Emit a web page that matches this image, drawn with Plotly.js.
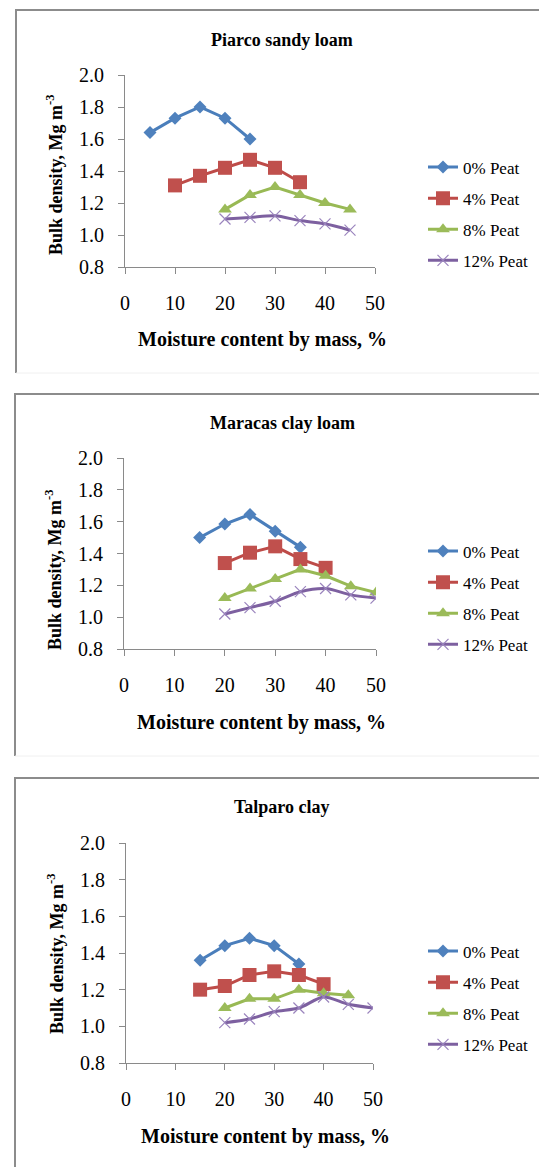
<!DOCTYPE html>
<html>
<head>
<meta charset="utf-8">
<script src="https://cdn.plot.ly/plotly-3.0.1.min.js"></script>
<style>
  html, body { margin: 0; padding: 0; background: #fff; }
  #chart { width: 539px; height: 1167px; }
</style>
</head>
<body>
<div id="chart"></div>
<script>
// ---- Data ----
const panelTitles = ["Piarco sandy loam", "Maracas clay loam", "Talparo clay"];
const seriesNames = ["0% Peat", "4% Peat", "8% Peat", "12% Peat"];
const xTitle = "Moisture content by mass, %";
const yTitle = "Bulk density, Mg m<sup>-3</sup>";

// Piarco sandy loam
const piarco_x0 = [5, 10, 15, 20, 25];
const piarco_y0 = [1.64, 1.73, 1.80, 1.73, 1.60];
const piarco_x4 = [10, 15, 20, 25, 30, 35];
const piarco_y4 = [1.31, 1.37, 1.42, 1.47, 1.42, 1.33];
const piarco_x8 = [20, 25, 30, 35, 40, 45];
const piarco_y8 = [1.16, 1.25, 1.30, 1.25, 1.20, 1.16];
const piarco_x12 = [20, 25, 30, 35, 40, 45];
const piarco_y12 = [1.10, 1.11, 1.12, 1.09, 1.07, 1.03];

// Maracas clay loam
const maracas_x0 = [15, 20, 25, 30, 35];
const maracas_y0 = [1.50, 1.585, 1.645, 1.54, 1.44];
const maracas_x4 = [20, 25, 30, 35, 40];
const maracas_y4 = [1.34, 1.405, 1.445, 1.365, 1.31];
const maracas_x8 = [20, 25, 30, 35, 40, 45, 50];
const maracas_y8 = [1.12, 1.18, 1.24, 1.30, 1.26, 1.195, 1.155];
const maracas_x12 = [20, 25, 30, 35, 40, 45, 50];
const maracas_y12 = [1.02, 1.06, 1.10, 1.16, 1.18, 1.14, 1.12];

// Talparo clay
const talparo_x0 = [15, 20, 25, 30, 35];
const talparo_y0 = [1.36, 1.44, 1.48, 1.44, 1.34];
const talparo_x4 = [15, 20, 25, 30, 35, 40];
const talparo_y4 = [1.20, 1.22, 1.28, 1.30, 1.28, 1.23];
const talparo_x8 = [20, 25, 30, 35, 40, 45];
const talparo_y8 = [1.10, 1.15, 1.15, 1.20, 1.18, 1.17];
const talparo_x12 = [20, 25, 30, 35, 40, 45, 50];
const talparo_y12 = [1.02, 1.04, 1.08, 1.10, 1.16, 1.12, 1.10];

const xTickVals = [0, 10, 20, 30, 40, 50];
const yTickVals = [0.8, 1.0, 1.2, 1.4, 1.6, 1.8, 2.0];

// ---- Styling / layout helpers ----
const W = 539, H = 1167;
const px = v => v / W;
const py = v => 1 - v / H;
const SERIF = "Liberation Serif, Times New Roman, serif";

const lineColors = ["#4a7ebb", "#be4b48", "#98b954", "#7d60a0"];
const markerStyles = [
  { symbol: "diamond", size: 10, color: "#4f81bd" },
  { symbol: "square", size: 14, color: "#c0504d" },
  { symbol: "triangle-up", size: 12, color: "#9bbb59" },
  { symbol: "x-thin", size: 11, color: "#9a84bd", line: { color: "#9a84bd", width: 1.2 } }
];

const panels = [
  { data: [[piarco_x0, piarco_y0], [piarco_x4, piarco_y4], [piarco_x8, piarco_y8], [piarco_x12, piarco_y12]],
    xd: [125, 375], yd: [75, 267], frame: { l: 16, t: 10, b: 373 },
    title: { x: 282, y: 40 }, xt: { x: 262, y: 339 }, yt: { x: 55, y: 175 }, leg: { x: 423, y: 214 } },
  { data: [[maracas_x0, maracas_y0], [maracas_x4, maracas_y4], [maracas_x8, maracas_y8], [maracas_x12, maracas_y12]],
    xd: [124, 376], yd: [458, 649], frame: { l: 15, t: 394, b: 756 },
    title: { x: 282, y: 423 }, xt: { x: 261, y: 722 }, yt: { x: 54, y: 570 }, leg: { x: 423, y: 598 } },
  { data: [[talparo_x0, talparo_y0], [talparo_x4, talparo_y4], [talparo_x8, talparo_y8], [talparo_x12, talparo_y12]],
    xd: [126, 373], yd: [843, 1063], frame: { l: 15, t: 778, b: 1180 },
    title: { x: 282, y: 807 }, xt: { x: 265, y: 1136 }, yt: { x: 55, y: 954 }, leg: { x: 423, y: 998 } }
];

const traces = [];
const layout = {
  width: W, height: H,
  margin: { l: 0, r: 0, t: 0, b: 0 },
  paper_bgcolor: "#ffffff", plot_bgcolor: "rgba(0,0,0,0)",
  font: { family: SERIF, color: "#000000" },
  showlegend: true,
  annotations: [], shapes: []
};

panels.forEach((p, i) => {
  const n = i === 0 ? "" : String(i + 1);
  const xa = "xaxis" + n, ya = "yaxis" + n, lg = "legend" + n;
  layout[xa] = {
    domain: [px(p.xd[0]), px(p.xd[1])], anchor: "y" + n,
    range: [0, 50], tickvals: xTickVals, ticktext: xTickVals.map(String),
    ticks: "outside", ticklen: 6, tickcolor: "#8a8a8a", tickwidth: 1,
    showline: true, linecolor: "#8a8a8a", linewidth: 1,
    showgrid: false, zeroline: false, fixedrange: true,
    tickfont: { family: SERIF, size: 20, color: "#000" },
    ticklabelstandoff: 12
  };
  layout[ya] = {
    domain: [py(p.yd[1]), py(p.yd[0])], anchor: "x" + n,
    range: [0.8, 2.0], tickvals: yTickVals, ticktext: yTickVals.map(v => v.toFixed(1)),
    ticks: "outside", ticklen: 6, tickcolor: "#8a8a8a", tickwidth: 1,
    showline: true, linecolor: "#8a8a8a", linewidth: 1,
    showgrid: false, zeroline: false, fixedrange: true,
    tickfont: { family: SERIF, size: 20, color: "#000" },
    ticklabelstandoff: 10
  };
  layout[lg] = {
    x: px(p.leg.x), y: py(p.leg.y), xanchor: "left", yanchor: "middle",
    bgcolor: "rgba(0,0,0,0)", borderwidth: 0,
    font: { family: SERIF, size: 17, color: "#000" },
    tracegroupgap: 6, traceorder: "grouped"
  };

  p.data.forEach((s, k) => {
    const m = markerStyles[k];
    const marker = { symbol: m.symbol, size: m.size, color: m.color };
    if (m.line) marker.line = m.line;
    traces.push({
      type: "scatter", mode: "lines+markers",
      x: s[0], y: s[1], name: seriesNames[k],
      xaxis: "x" + n, yaxis: "y" + n, legend: lg,
      legendgroup: "g" + i + "_" + k,
      line: k === 3 ? { color: lineColors[k], width: 3, shape: "spline", smoothing: 0.8 }
                    : { color: lineColors[k], width: 3 },
      marker: marker,
      hoverinfo: "x+y+name"
    });
  });

  layout.annotations.push({
    xref: "paper", yref: "paper", x: px(p.title.x), y: py(p.title.y),
    xanchor: "center", yanchor: "middle", showarrow: false,
    text: "<b>" + panelTitles[i] + "</b>", font: { family: SERIF, size: 18, color: "#000" }
  });
  layout.annotations.push({
    xref: "paper", yref: "paper", x: px(p.xt.x), y: py(p.xt.y),
    xanchor: "center", yanchor: "middle", showarrow: false,
    text: "<b>" + xTitle + "</b>", font: { family: SERIF, size: 20, color: "#000" }
  });
  layout.annotations.push({
    xref: "paper", yref: "paper", x: px(p.yt.x), y: py(p.yt.y),
    xanchor: "center", yanchor: "middle", showarrow: false, textangle: -90,
    text: "<b>" + yTitle + "</b>", font: { family: SERIF, size: 18, color: "#000" }
  });

  // panel frame (left + top edges; right edge is beyond the page)
  layout.shapes.push({
    type: "path", xref: "paper", yref: "paper", layer: "below",
    path: "M " + px(p.frame.l) + "," + py(p.frame.b) + " L " + px(p.frame.l) + "," + py(p.frame.t) + " L 1.05," + py(p.frame.t),
    line: { color: "#8c8c8c", width: 2 }
  });
  layout.shapes.push({
    type: "line", xref: "paper", yref: "paper", layer: "below",
    x0: px(p.frame.l), x1: 1.05, y0: py(p.frame.b), y1: py(p.frame.b),
    line: { color: "#f0f0f0", width: 1 }
  });
});

Plotly.newPlot("chart", traces, layout, { displayModeBar: false, staticPlot: true });
</script>
</body>
</html>
